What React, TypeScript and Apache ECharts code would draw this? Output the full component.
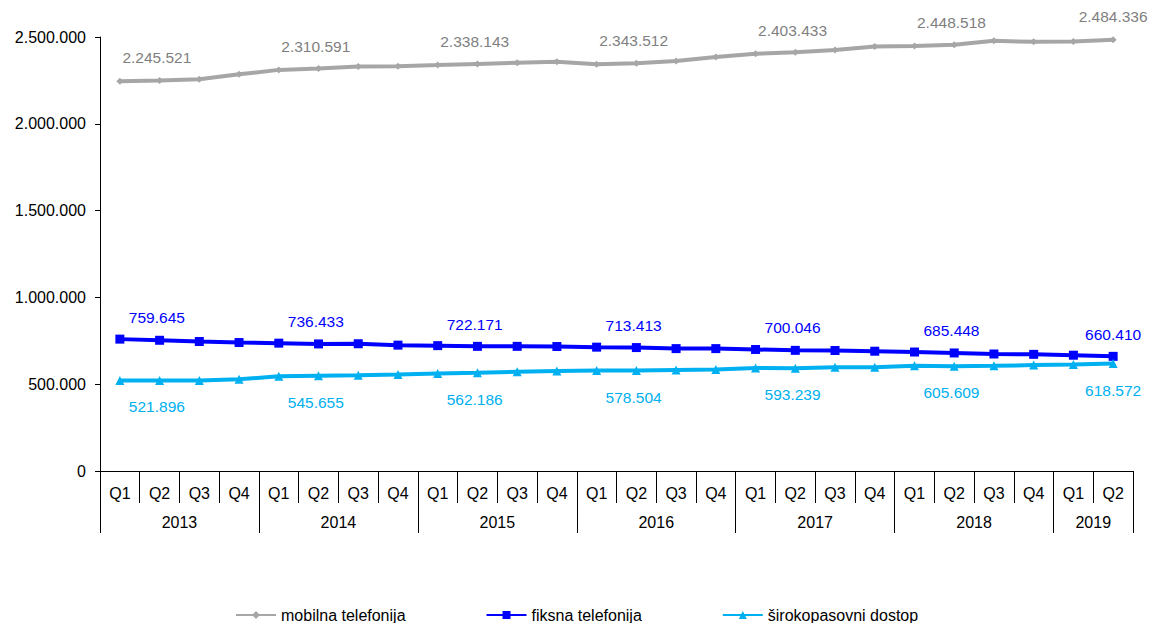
import React, { useEffect, useRef } from "react";
import * as echarts from "echarts";

const quarters = [
  "Q1", "Q2", "Q3", "Q4", "Q1", "Q2", "Q3", "Q4", "Q1", "Q2", "Q3", "Q4",
  "Q1", "Q2", "Q3", "Q4", "Q1", "Q2", "Q3", "Q4", "Q1", "Q2", "Q3", "Q4",
  "Q1", "Q2",
];

// year labels placed on category boundaries (27 boundaries for 26 quarters)
const yearBoundaryLabels = [
  "", "", "2013", "", "", "", "2014", "", "", "", "2015", "", "", "",
  "2016", "", "", "", "2017", "", "", "", "2018", "", "", "2019", "",
];
const yearBoundaries = [0, 4, 8, 12, 16, 20, 24, 26];

const mobilna = [
  2245521, 2249000, 2256000, 2285000,
  2310591, 2318000, 2330000, 2332000,
  2338143, 2345000, 2352000, 2358000,
  2343512, 2349000, 2362000, 2385000,
  2403433, 2412000, 2425000, 2445000,
  2448518, 2455000, 2478000, 2472000,
  2474000, 2484336,
];

const fiksna = [
  759645, 753000, 746000, 740000,
  736433, 732000, 733000, 725000,
  722171, 718000, 718000, 717000,
  713413, 711000, 705000, 705000,
  700046, 695000, 694000, 690000,
  685448, 680000, 674000, 672000,
  667000, 660410,
];

const sirokopasovni = [
  521896, 521000, 522000, 528000,
  545655, 549000, 551000, 556000,
  562186, 566000, 572000, 576000,
  578504, 579000, 582000, 585000,
  593239, 592000, 597000, 598000,
  605609, 604000, 606000, 610000,
  613000, 618572,
];

const labeledIdx = [0, 4, 8, 12, 16, 20, 25];

const seriesNames = ["mobilna telefonija", "fiksna telefonija", "širokopasovni dostop"];

const fmt = (v: number) => String(Math.round(v)).replace(/\B(?=(\d{3})+(?!\d))/g, ".");

const FONT = "'Liberation Sans', Arial, sans-serif";

function buildData(values: number[], above: boolean, dy: number) {
  const last = values.length - 1;
  return values.map((v, i) => {
    if (!labeledIdx.includes(i)) return { value: v };
    return {
      value: v,
      label: {
        show: true,
        offset: [i === last ? 0 : 37, dy],
        position: above ? "top" : "bottom",
      },
    };
  });
}

export default function App() {
  const ref = useRef<HTMLDivElement>(null);
  useEffect(() => {
    if (!ref.current) return;
    const chart = echarts.init(ref.current, undefined, { renderer: "svg" });
    const labelBase = (color: string) => ({
      show: false,
      color,
      fontSize: 15.5,
      fontFamily: FONT,
      formatter: (p: any) => fmt(p.value),
    });
    chart.setOption({
      animation: false,
      backgroundColor: "#ffffff",
      textStyle: { fontFamily: FONT },
      grid: { left: 100, right: 16, top: 37, bottom: 152, containLabel: false },
      legend: {
        left: 230,
        top: 602,
        itemWidth: 40,
        itemHeight: 10,
        itemGap: 80,
        textStyle: { fontSize: 16, color: "#000", fontFamily: FONT },
        data: seriesNames,
      },
      xAxis: [
        {
          type: "category",
          data: quarters,
          boundaryGap: true,
          axisLine: { show: true, lineStyle: { color: "#000", width: 1 } },
          axisTick: { show: true, interval: 0, length: 32, lineStyle: { color: "#000" } },
          axisLabel: { interval: 0, margin: 14, fontSize: 16, color: "#000", fontFamily: FONT },
          splitLine: { show: false },
        },
        {
          type: "category",
          data: yearBoundaryLabels,
          boundaryGap: false,
          position: "bottom",
          axisLine: { show: false },
          axisTick: {
            show: true,
            interval: (idx: number) => yearBoundaries.includes(idx),
            length: 62,
            lineStyle: { color: "#000" },
          },
          axisLabel: { interval: 0, margin: 43, fontSize: 16, color: "#000", fontFamily: FONT },
          splitLine: { show: false },
        },
      ],
      yAxis: {
        type: "value",
        min: 0,
        max: 2500000,
        interval: 500000,
        axisLine: { show: true, lineStyle: { color: "#000", width: 1 } },
        axisTick: { show: true, length: 5, lineStyle: { color: "#000" } },
        axisLabel: {
          margin: 14,
          fontSize: 16,
          color: "#000",
          fontFamily: FONT,
          formatter: (v: number) => fmt(v),
        },
        splitLine: { show: false },
      },
      series: [
        {
          name: seriesNames[0],
          type: "line",
          xAxisIndex: 0,
          data: buildData(mobilna, true, -7),
          symbol: "diamond",
          symbolSize: 7,
          lineStyle: { color: "#A6A6A6", width: 4 },
          itemStyle: { color: "#A6A6A6" },
          label: labelBase("#7F7F7F"),
        },
        {
          name: seriesNames[1],
          type: "line",
          xAxisIndex: 0,
          data: buildData(fiksna, true, -4),
          symbol: "rect",
          symbolSize: 9,
          lineStyle: { color: "#0000FF", width: 4 },
          itemStyle: { color: "#0000FF" },
          label: labelBase("#0000FF"),
        },
        {
          name: seriesNames[2],
          type: "line",
          xAxisIndex: 0,
          data: buildData(sirokopasovni, false, 9),
          symbol: "triangle",
          symbolSize: 9,
          lineStyle: { color: "#00B0F0", width: 4 },
          itemStyle: { color: "#00B0F0" },
          label: labelBase("#00B0F0"),
        },
      ],
    });
    return () => chart.dispose();
  }, []);
  return (
    <div
      ref={ref}
      style={{ position: "fixed", left: 0, top: 0, width: 1149, height: 623, background: "#fff" }}
    />
  );
}
